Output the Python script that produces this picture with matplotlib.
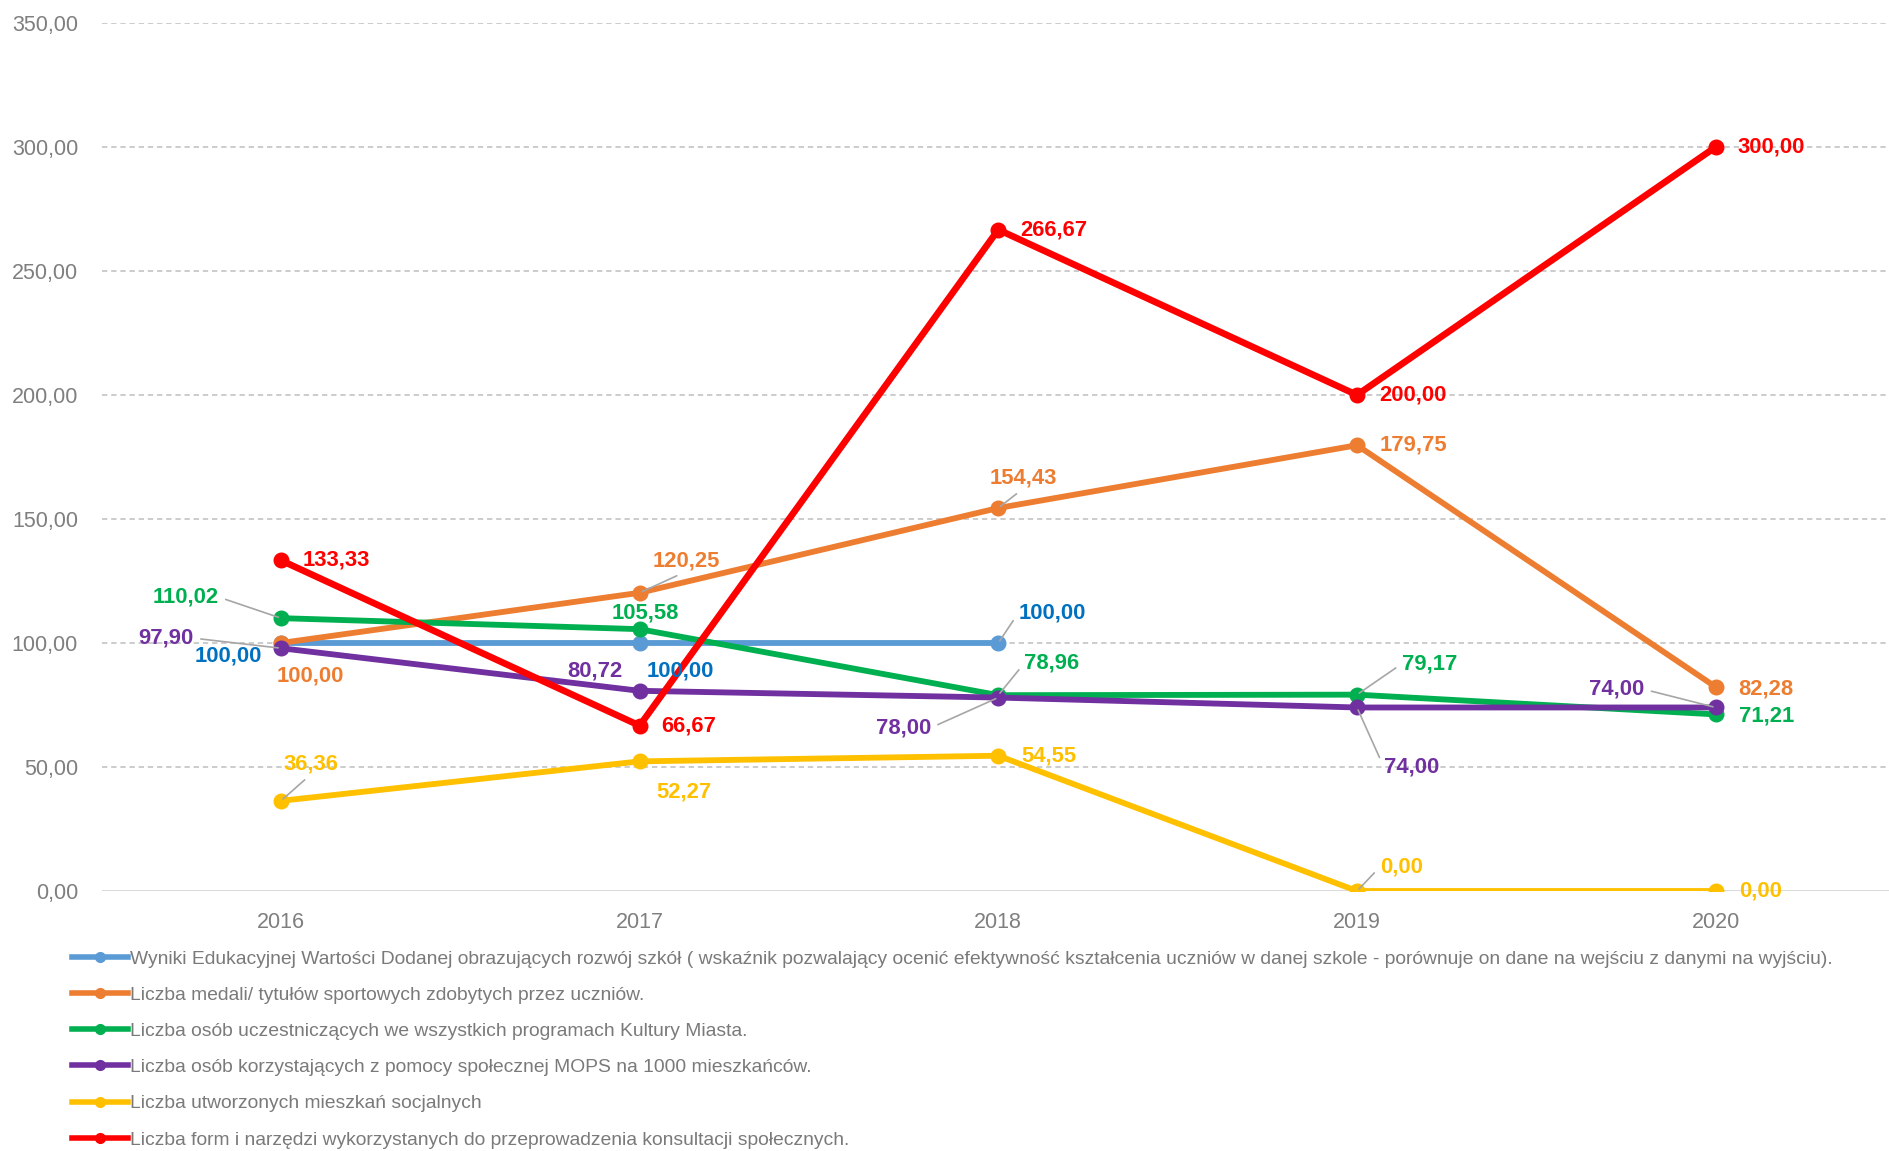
import numpy as np
import matplotlib
matplotlib.use("Agg")
import matplotlib.pyplot as plt
from matplotlib.lines import Line2D

plt.rcParams['font.family'] = ['Liberation Sans', 'DejaVu Sans']

# ---- data ----
years = ["2016", "2017", "2018", "2019", "2020"]
series_names = [
    "Wyniki Edukacyjnej Wartości Dodanej obrazujących rozwój szkół ( wskaźnik pozwalający ocenić efektywność kształcenia uczniów w danej szkole - porównuje on dane na wejściu z danymi na wyjściu).",
    "Liczba medali/ tytułów sportowych zdobytych przez uczniów.",
    "Liczba osób uczestniczących we wszystkich programach Kultury Miasta.",
    "Liczba osób korzystających z pomocy społecznej MOPS na 1000 mieszkańców.",
    "Liczba utworzonych mieszkań socjalnych",
    "Liczba form i narzędzi wykorzystanych do przeprowadzenia konsultacji społecznych.",
]
wyniki = [100.00, 100.00, 100.00, np.nan, np.nan]
medale = [100.00, 120.25, 154.43, 179.75, 82.28]
kultura = [110.02, 105.58, 78.96, 79.17, 71.21]
mops = [97.90, 80.72, 78.00, 74.00, 74.00]
mieszkania = [36.36, 52.27, 54.55, 0.00, 0.00]
konsultacje = [133.33, 66.67, 266.67, 200.00, 300.00]
all_series = [wyniki, medale, kultura, mops, mieszkania, konsultacje]

# ---- styles ----
line_colors = ["#5B9BD5", "#ED7D31", "#00B050", "#7030A0", "#FFC000", "#FF0000"]
text_colors = ["#0070C0", "#ED7D31", "#00B050", "#7030A0", "#FFC000", "#FF0000"]
line_widths = [4.2, 4.2, 4.2, 4.2, 4.2, 4.8]

# label placement per point: (dx px, dy px, ha, leader line)
R = (23, 0, "left", False)
label_pos = [
    [(-19, -13, "right", False), (7, -28, "left", False), (20, 30, "left", True), None, None],
    [(29, -33, "center", False), (47, 32, "center", True), (25, 30, "center", True), R, (23, -2, "left", False)],
    [(-62, 21, "right", True), (6, 16, "center", False), (26, 32, "left", True), (45, 31, "left", True), (23, -2, "left", False)],
    [(-87, 10, "right", True), (-17, 20, "right", False), (-67, -30, "right", True), (27, -60, "left", True), (-71, 18, "right", True)],
    [(30, 37, "center", True), (44, -31, "center", False), R, (23, 24, "left", True), R],
    [(22, 0, "left", False)] * 5,
]

W, H = 1890, 1151
fig = plt.figure(figsize=(W / 100, H / 100), dpi=100)
ax_left, ax_right = 101.6, 1895
ax_top, ax_bottom = 23, 891
ax = fig.add_axes([ax_left / W, (H - ax_bottom) / H, (ax_right - ax_left) / W, (ax_bottom - ax_top) / H])

x = np.arange(len(years))
ax.set_xlim(-0.5, len(years) - 0.5)
ax.set_ylim(0, 350)

yticks = np.arange(0, 351, 50)
for t in yticks:
    if t == 0:
        ax.axhline(t, color="#D9D9D9", lw=1.4, zorder=1)
    else:
        ax.axhline(t, color="#BFBFBF", lw=1.1, ls=(0, (3.5, 2.5)), zorder=1)

for vals, lc, lw in zip(all_series, line_colors, line_widths):
    ax.plot(x, vals, color=lc, lw=lw, marker="o", ms=10.5, solid_capstyle="round", zorder=3)

for vals, tc, positions in zip(all_series, text_colors, label_pos):
    for i, v in enumerate(vals):
        if np.isnan(v) or positions[i] is None:
            continue
        dx, dy, ha, leader = positions[i]
        txt = f"{v:.2f}".replace(".", ",")
        kw = {}
        if leader:
            rel = {"left": (0, 0.5), "right": (1, 0.5)}.get(ha, (0.5, 0.0 if dy > 0 else 1.0))
            kw["arrowprops"] = dict(arrowstyle="-", color="#A6A6A6", lw=1.2,
                                    shrinkA=3, shrinkB=2, relpos=rel)
        ax.annotate(txt, (x[i], v), xytext=(dx, dy), textcoords="offset pixels",
                    ha=ha, va="center", color=tc, fontsize=15.8, fontweight="bold",
                    zorder=5, **kw)

for s in ax.spines.values():
    s.set_visible(False)
ax.set_xticks(x)
ax.set_xticklabels(years)
ax.set_yticks(yticks)
ax.set_yticklabels([f"{t:.2f}".replace(".", ",") for t in yticks])
ax.tick_params(axis="both", length=0, colors="#7F7F7F", labelsize=15.5)
ax.tick_params(axis="y", pad=17)
ax.tick_params(axis="x", pad=15)

handles = [Line2D([0], [0], color=c, lw=4, marker="o", ms=7) for c in line_colors]
leg = fig.legend(handles, series_names, loc="upper left",
                 bbox_to_anchor=(72 / W, (H - 950) / H), bbox_transform=fig.transFigure,
                 frameon=False, fontsize=13.9, handlelength=2.9, handletextpad=0.12,
                 labelspacing=0.97, borderpad=0, borderaxespad=0, numpoints=1)
for t in leg.get_texts():
    t.set_color("#7A7A7A")

fig.savefig("out.png", dpi=100)
